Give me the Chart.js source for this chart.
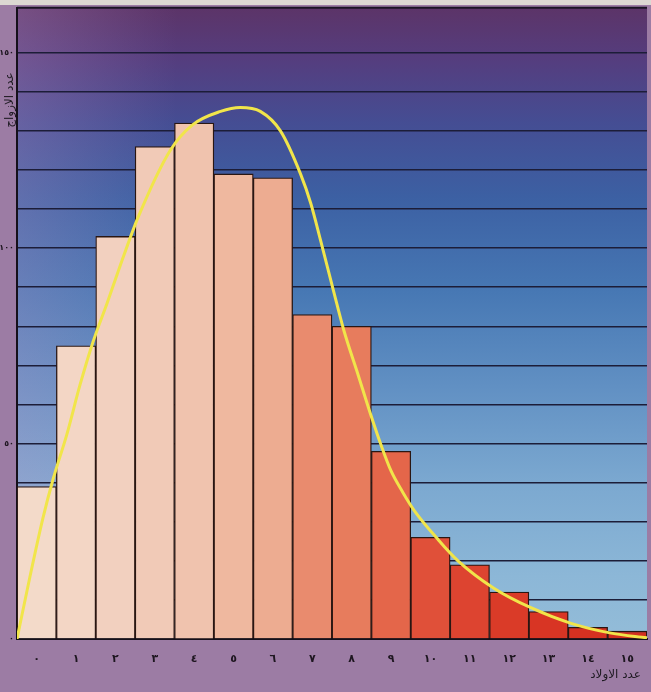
<!DOCTYPE html>
<html><head><meta charset="utf-8">
<script src="https://cdn.jsdelivr.net/npm/chart.js@4/dist/chart.umd.min.js"></script>
<style>html,body{margin:0;padding:0;background:#9c7ca4;overflow:hidden}#wrap{width:651px;height:692px}</style>
</head><body><div id="wrap"><canvas id="c" width="651" height="692"></canvas></div>
<script>
// ---- data ----
const categories = ['٠','١','٢','٣','٤','٥','٦','٧','٨','٩','١٠','١١','١٢','١٣','١٤','١٥'];
const counts = [39, 75, 103, 126, 132, 119, 118, 83, 80, 48, 26, 19, 12, 7, 3, 2];
const yTickValues = [0, 50, 100, 150];
const yTickTexts = ['٠', '٥٠', '١٠٠', '١٥٠'];
// fitted curve (x in category units, y in couples)
const curveX = [-0.5, -0.17, 0.16, 0.42, 0.77, 1.10, 1.43, 1.79, 2.12, 2.58, 3.39, 3.95, 4.67, 5.17, 5.68, 6.19, 6.70, 6.96, 7.21, 7.54, 7.80, 8.15, 8.48, 8.75, 9.0, 9.3, 9.58, 10.19, 10.70, 11.61, 12.55, 13.57, 14.59, 15.5];
const curveY = [0, 16, 31, 41, 52.5, 65, 76, 86, 95.5, 108, 125, 131.5, 135, 136, 135, 130, 119, 111.5, 102, 89, 79, 68, 57.5, 49.5, 43, 37.5, 33, 25.5, 20, 13, 8, 4, 1.5, 0.3];
const barColors = ['#f3dac9','#f3d6c5','#f2d0bf','#f1cab7','#f0c3ae','#efb89f','#edac91','#e98b6e','#e77c5d','#e4664a','#e05039','#dd4430','#da3b28','#d83524','#d53121','#d22f1f'];
const xTitle = 'عدد الاولاد';
const yTitle = 'عدد الازواج';

const FONT = "'DejaVu Sans', sans-serif";

const bgPlugin = {
  id: 'bg',
  beforeDraw(chart) {
    const {ctx, chartArea: a, width, height} = chart;
    ctx.save();
    ctx.fillStyle = '#9c7ca4';
    ctx.fillRect(0, 0, width, height);
    ctx.fillStyle = '#dcd8d2';
    ctx.fillRect(0, 0, width, 5);
    const g = ctx.createLinearGradient(0, a.top, 0, a.bottom);
    g.addColorStop(0.0, '#5c3468');
    g.addColorStop(0.08, '#553d7e');
    g.addColorStop(0.18, '#454d93');
    g.addColorStop(0.30, '#3c60a3');
    g.addColorStop(0.45, '#4778b4');
    g.addColorStop(0.60, '#6190c3');
    g.addColorStop(0.75, '#7ba8d0');
    g.addColorStop(0.90, '#8cb7d7');
    g.addColorStop(1.0, '#93bcd8');
    ctx.fillStyle = g;
    ctx.fillRect(a.left, a.top, a.right - a.left, a.bottom - a.top);
    const h = ctx.createLinearGradient(a.left, 0, a.left + 160, 0);
    h.addColorStop(0, 'rgba(190,150,200,0.28)');
    h.addColorStop(1, 'rgba(190,150,200,0)');
    ctx.fillStyle = h;
    ctx.fillRect(a.left, a.top, 160, a.bottom - a.top);
    ctx.strokeStyle = '#1a1424';
    ctx.lineWidth = 2;
    ctx.beginPath();
    ctx.moveTo(a.left, a.top);
    ctx.lineTo(a.right, a.top);
    ctx.stroke();
    ctx.restore();
  },
  afterDraw(chart) {
    const {ctx} = chart;
    ctx.save();
    ctx.fillStyle = '#1e1a22';
    ctx.font = '12px ' + FONT;
    ctx.textAlign = 'right';
    ctx.textBaseline = 'middle';
    ctx.fillText(xTitle, 641, 675);
    ctx.translate(10, 100);
    ctx.rotate(-Math.PI / 2);
    ctx.font = '12px ' + FONT;
    ctx.textAlign = 'center';
    ctx.fillText(yTitle, 0, 0);
    ctx.restore();
  }
};

new Chart(document.getElementById('c'), {
  data: {
    labels: categories,
    datasets: [
      {
        type: 'line',
        xAxisID: 'x2',
        data: curveX.map((x, i) => ({x: x, y: curveY[i]})),
        borderColor: '#f1e54a',
        borderWidth: 3,
        pointRadius: 0,
        cubicInterpolationMode: 'monotone',
        order: 0
      },
      {
        type: 'bar',
        xAxisID: 'x',
        data: counts,
        backgroundColor: barColors,
        borderColor: '#2a1612',
        borderWidth: 1.3,
        grouped: false,
        barPercentage: 1,
        categoryPercentage: 1,
        order: 1
      }
    ]
  },
  options: {
    responsive: false,
    animation: false,
    devicePixelRatio: 1,
    datasets: {bar: {barPercentage: 1, categoryPercentage: 1, grouped: false}},
    layout: {padding: {top: 7, right: 4, left: 0, bottom: 0}},
    plugins: {legend: {display: false}, tooltip: {enabled: false}},
    scales: {
      x: {
        type: 'category',
        offset: true,
        grid: {display: false},
        border: {display: true, color: '#15101a', width: 2},
        ticks: {color: '#1e1620', font: {family: FONT, size: 11, weight: 'bold'}, padding: 6, maxRotation: 0, autoSkip: false},
        afterFit(s) { s.height = 53; }
      },
      x2: {
        type: 'linear',
        display: false,
        min: -0.5,
        max: 15.5
      },
      y: {
        type: 'linear',
        min: 0,
        max: 161.5,
        grid: {color: (c) => (c.tick && c.tick.value % 10 === 0) ? '#1c1d38' : 'rgba(0,0,0,0)', lineWidth: 1.6, drawTicks: false},
        border: {display: true, color: '#15101a', width: 2},
        ticks: {
          stepSize: 10,
          autoSkip: false,
          padding: 3,
          color: '#1e1620',
          font: {family: FONT, size: 8, weight: 'bold'},
          callback: (v) => { const i = yTickValues.indexOf(v); return i >= 0 ? yTickTexts[i] : ''; }
        },
        afterFit(s) { s.width = 17; }
      }
    }
  },
  plugins: [bgPlugin]
});
</script>
</body></html>
